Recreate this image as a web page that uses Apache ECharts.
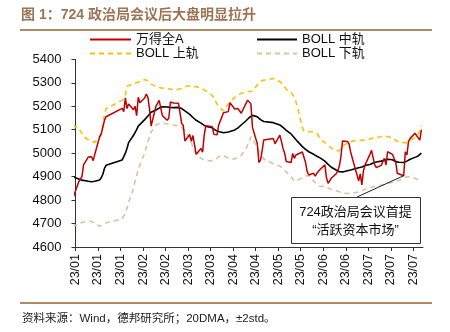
<!DOCTYPE html>
<html><head><meta charset="utf-8">
<script src="https://cdn.jsdelivr.net/npm/echarts@6/dist/echarts.min.js"></script>
<style>html,body{margin:0;padding:0;background:#fff}#c{width:450px;height:332px}</style>
</head><body><div id="c"></div>
<script>
const dates = [
"2022-12-30",
"2023-01-03","2023-01-04","2023-01-05","2023-01-06","2023-01-09","2023-01-10","2023-01-11","2023-01-12","2023-01-13","2023-01-16","2023-01-17","2023-01-18","2023-01-19","2023-01-20","2023-01-30","2023-01-31",
"2023-02-01","2023-02-02","2023-02-03","2023-02-06","2023-02-07","2023-02-08","2023-02-09","2023-02-10","2023-02-13","2023-02-14","2023-02-15","2023-02-16","2023-02-17","2023-02-20","2023-02-21","2023-02-22","2023-02-23","2023-02-24","2023-02-27","2023-02-28",
"2023-03-01","2023-03-02","2023-03-03","2023-03-06","2023-03-07","2023-03-08","2023-03-09","2023-03-10","2023-03-13","2023-03-14","2023-03-15","2023-03-16","2023-03-17","2023-03-20","2023-03-21","2023-03-22","2023-03-23","2023-03-24","2023-03-27","2023-03-28","2023-03-29","2023-03-30","2023-03-31",
"2023-04-03","2023-04-04","2023-04-06","2023-04-07","2023-04-10","2023-04-11","2023-04-12","2023-04-13","2023-04-14","2023-04-17","2023-04-18","2023-04-19","2023-04-20","2023-04-21","2023-04-24","2023-04-25","2023-04-26","2023-04-27","2023-04-28",
"2023-05-04","2023-05-05","2023-05-08","2023-05-09","2023-05-10","2023-05-11","2023-05-12","2023-05-15","2023-05-16","2023-05-17","2023-05-18","2023-05-19","2023-05-22","2023-05-23","2023-05-24","2023-05-25","2023-05-26","2023-05-29","2023-05-30","2023-05-31",
"2023-06-01","2023-06-02","2023-06-05","2023-06-06","2023-06-07","2023-06-08","2023-06-09","2023-06-12","2023-06-13","2023-06-14","2023-06-15","2023-06-16","2023-06-19","2023-06-20","2023-06-21","2023-06-26","2023-06-27","2023-06-28","2023-06-29","2023-06-30",
"2023-07-03","2023-07-04","2023-07-05","2023-07-06","2023-07-07","2023-07-10","2023-07-11","2023-07-12","2023-07-13","2023-07-14","2023-07-17","2023-07-18","2023-07-19","2023-07-20","2023-07-21","2023-07-24","2023-07-25","2023-07-26","2023-07-27","2023-07-28","2023-07-31",
"2023-08-01","2023-08-02","2023-08-03","2023-08-04"
];

const windA = [
4800,
4878,4890,4900,4950,4984,4992,4985,4968,4995,5070,5082,5086,5140,5155,5191,5177,
5236,5190,5210,5185,5200,5160,5238,5215,5235,5252,5238,5190,5115,5200,5212,5225,5232,5160,5140,5150,
5218,5212,5214,5213,5210,5127,5118,5052,5080,5050,5075,5035,4995,5020,5004,5077,5117,5113,5113,5080,5077,5078,5120,
5172,5177,5177,5215,5188,5196,5190,5198,5170,5212,5226,5220,5210,5110,5040,4960,4970,5010,5056,
5062,5040,5077,5050,5020,5000,4964,4960,4999,4978,4992,4990,5005,5013,4960,4921,4907,4914,4902,4914,
4907,4930,4950,4895,4871,4871,4893,4912,4925,4945,4985,5052,5050,5040,5005,4882,4912,4865,4925,4950,
4995,5012,5018,4950,4938,4948,4950,4978,4950,5006,4995,4978,4965,4914,4910,4904,5006,4992,5049,5063,5085,
5090,5065,5056,5100
];

const bollMid = [
4900,
4890,4888,4885,4883,4880,4878,4878,4878,4880,4886,4895,4910,4935,4948,4971,4985,
5000,5020,5045,5075,5082,5100,5115,5123,5143,5150,5158,5165,5174,5184,5187,5192,5196,5198,5197,5196,
5195,5195,5194,5195,5193,5190,5185,5180,5165,5158,5152,5145,5140,5128,5122,5118,5115,5113,5108,5104,5098,5094,5092,
5087,5086,5090,5092,5099,5103,5108,5113,5120,5138,5145,5152,5158,5161,5155,5148,5143,5138,5135,
5130,5128,5120,5115,5110,5104,5097,5082,5075,5066,5058,5050,5028,5022,5016,5010,5006,4995,4990,4987,
4984,4980,4966,4960,4952,4946,4940,4928,4924,4921,4920,4920,4925,4926,4928,4938,4940,4941,4943,4947,
4952,4955,4958,4960,4962,4966,4968,4970,4972,4974,4972,4968,4964,4962,4961,4960,4962,4966,4970,4974,4982,
4985,4988,4993,5000
];

const bollUpper = [
5120,
5106,5095,5085,5070,5057,5052,5050,5048,5047,5065,5080,5120,5165,5190,5225,5235,
5250,5285,5290,5296,5298,5300,5303,5306,5314,5314,5308,5298,5290,5284,5282,5280,5279,5277,5275,5274,
5273,5272,5272,5272,5273,5276,5280,5284,5287,5286,5285,5284,5283,5278,5274,5270,5266,5260,5246,5238,5222,5210,5198,
5180,5185,5210,5220,5238,5242,5247,5250,5255,5262,5263,5263,5263,5264,5290,5300,5305,5310,5313,
5318,5316,5305,5300,5292,5282,5272,5258,5250,5240,5220,5195,5110,5095,5092,5092,5091,5090,5090,5085,
5075,5060,5045,5040,5033,5028,5022,5010,5007,5010,5020,5030,5043,5047,5050,5054,5055,5055,5056,5057,
5060,5062,5065,5066,5068,5070,5072,5075,5072,5070,5066,5060,5055,5050,5047,5045,5044,5045,5048,5055,5065,
5072,5080,5095,5118
];

const bollLower = [
4690,
4694,4700,4705,4708,4710,4710,4709,4705,4700,4688,4690,4695,4700,4703,4720,4722,
4745,4765,4790,4850,4880,4905,4930,4950,5000,5025,5050,5070,5090,5120,5124,5126,5127,5127,5125,5123,
5121,5120,5119,5116,5114,5110,5103,5095,5065,5045,5025,5010,4995,4978,4974,4970,4968,4967,4968,4970,4972,4980,4985,
4990,4988,4978,4975,4975,4980,4985,4988,4990,5020,5035,5050,5070,5068,5025,5010,4995,4985,4975,
4955,4950,4945,4940,4935,4928,4920,4900,4890,4880,4878,4885,4895,4900,4902,4905,4905,4882,4875,4868,
4862,4858,4860,4858,4852,4848,4845,4840,4838,4835,4832,4830,4828,4828,4828,4835,4838,4840,4843,4846,
4852,4855,4857,4858,4860,4863,4866,4868,4870,4872,4876,4878,4880,4882,4885,4893,4897,4900,4900,4898,4893,
4890,4887,4884,4880
];

const tickLabels = ['23/01','23/01','23/01','23/02','23/02','23/03','23/03','23/04','23/04','23/05','23/05','23/06','23/06','23/07','23/07','23/07'];
const annotationDate = "2023-07-24";
const annotationText = ['724政治局会议首提', '“活跃资本市场”'];

const DAY = 86400000;
const origin = Date.UTC(2023, 0, 1);
function dayOf(s){ const p = s.split('-').map(Number); return (Date.UTC(p[0], p[1]-1, p[2]) - origin) / DAY; }
const xs = dates.map(dayOf);
const pairs = arr => arr.map((v, i) => [xs[i], v]);
const tickStep = 14;
const tickVals = tickLabels.map((_, i) => i * tickStep);

const FONT = "'Liberation Sans', Arial, 'Noto Sans CJK SC', sans-serif";
const chart = echarts.init(document.getElementById('c'), null, {renderer: 'canvas'});
const legendText = {fontSize: 13, color: '#111', fontFamily: FONT};
const legendCommon = {padding: 0, itemHeight: 14, textStyle: legendText, itemStyle: {opacity: 0}};
const option = {
  animation: false,
  backgroundColor: '#fff',
  title: {
    text: '图 1：724 政治局会议后大盘明显拉升',
    left: 21, top: 8, padding: 0,
    textStyle: {fontSize: 14, fontWeight: 'bold', color: '#9B7553', fontFamily: FONT}
  },
  legend: [
    Object.assign({data: ['万得全A'], left: 89, top: 33, itemWidth: 41}, legendCommon),
    Object.assign({data: ['BOLL 中轨'], left: 256, top: 33, itemWidth: 40}, legendCommon),
    Object.assign({data: ['BOLL 上轨'], left: 89, top: 47, itemWidth: 41}, legendCommon),
    Object.assign({data: ['BOLL 下轨'], left: 256, top: 47, itemWidth: 40}, legendCommon)
  ],
  grid: {left: 75.5, right: 27, top: 59.3, bottom: 85, containLabel: false},
  xAxis: {
    type: 'value', min: 0, max: 216, interval: tickStep,
    axisLine: {lineStyle: {color: '#333', width: 1}},
    axisTick: {show: true, length: 4, customValues: tickVals, lineStyle: {color: '#333'}},
    splitLine: {show: false},
    axisLabel: {
      customValues: tickVals, rotate: 90, margin: 7, fontSize: 12.5, color: '#111', fontFamily: FONT,
      formatter: v => { const k = Math.round(v / tickStep); return (Math.abs(v - k * tickStep) < 1e-6 && tickLabels[k]) ? tickLabels[k] : ''; }
    }
  },
  yAxis: {
    type: 'value', min: 4600, max: 5400, interval: 100,
    axisLine: {show: true, lineStyle: {color: '#333', width: 1}},
    axisTick: {show: true, length: 4, lineStyle: {color: '#333'}},
    splitLine: {show: false},
    axisLabel: {fontSize: 13, color: '#111', margin: 14, fontFamily: FONT, formatter: v => String(v)}
  },
  series: [
    {name: 'BOLL 上轨', type: 'line', data: pairs(bollUpper), symbol: 'none', showSymbol: false, z: 2,
     lineStyle: {color: '#FFC000', width: 1.6, type: [5, 4]}, itemStyle: {color: '#FFC000'}},
    {name: 'BOLL 下轨', type: 'line', data: pairs(bollLower), symbol: 'none', showSymbol: false, z: 2,
     lineStyle: {color: '#D9C49C', width: 1.6, type: [5, 4]}, itemStyle: {color: '#D9C49C'}},
    {name: 'BOLL 中轨', type: 'line', data: pairs(bollMid), symbol: 'none', showSymbol: false, z: 3,
     lineStyle: {color: '#000', width: 1.6}, itemStyle: {color: '#000'}},
    {name: '万得全A', type: 'line', data: pairs(windA), symbol: 'none', showSymbol: false, z: 4,
     lineStyle: {color: '#C00000', width: 1.5}, itemStyle: {color: '#C00000'}}
  ]
};
chart.setOption(option);

const ai = dates.indexOf(annotationDate);
const target = chart.convertToPixel({gridIndex: 0}, [xs[ai], windA[ai]]);
const box = {x: 291, y: 197, w: 129, h: 46};
chart.setOption({
  graphic: [
    {type: 'line', shape: {x1: 20, y1: 30, x2: 432, y2: 30}, style: {stroke: '#B08A66', lineWidth: 2}, silent: true},
    {type: 'line', shape: {x1: 20, y1: 303, x2: 432, y2: 303}, style: {stroke: '#B08A66', lineWidth: 2}, silent: true},
    {type: 'text', left: 22, top: 313, style: {text: '资料来源：Wind，德邦研究所；20DMA，±2std。', fontSize: 11.5, fill: '#222', fontFamily: FONT}, silent: true},
    {type: 'line', z: 50, shape: {x1: 357, y1: box.y, x2: target[0], y2: target[1]}, style: {stroke: '#222', lineWidth: 1}, silent: true},
    {type: 'rect', z: 50, shape: {x: box.x + 0.5, y: box.y + 0.5, width: box.w, height: box.h}, style: {fill: '#fff', stroke: '#333', lineWidth: 1}, silent: true},
    {type: 'text', z: 51, x: box.x + box.w / 2, y: box.y + 15, style: {text: annotationText[0], fontSize: 13, fill: '#111', align: 'center', verticalAlign: 'middle', fontFamily: FONT}, silent: true},
    {type: 'text', z: 51, x: box.x + box.w / 2, y: box.y + 33, style: {text: annotationText[1], fontSize: 13, fill: '#111', align: 'center', verticalAlign: 'middle', fontFamily: FONT}, silent: true}
  ]
});
</script></body></html>
